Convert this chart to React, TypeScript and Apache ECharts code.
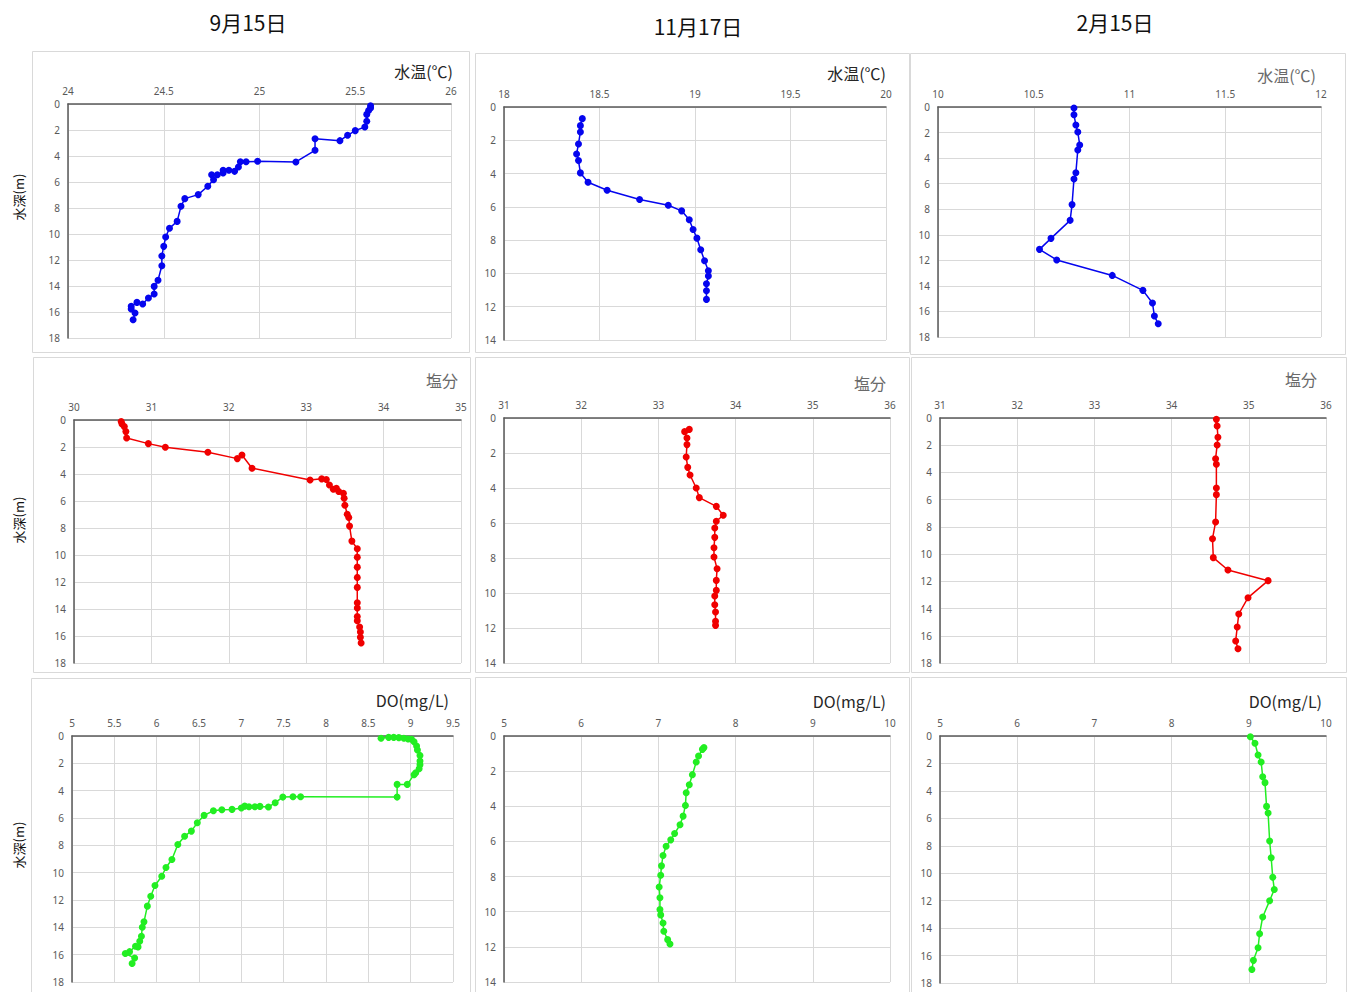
import React, { useEffect, useRef } from "react";
import * as echarts from "echarts";

// ---- texts ----
const dateTitles = ["9月15日", "11月17日", "2月15日"];
const paramTitles = ["水温(℃)", "塩分", "DO(mg/L)"];
const depthLabel = "水深(m)";

// ---- data: 9月15日 ----
const sepTemp = [25.58, 25.58, 25.57, 25.56, 25.56, 25.55, 25.5, 25.46, 25.42, 25.29, 25.29, 25.19, 24.99, 24.93, 24.9, 24.89, 24.87, 24.84, 24.81, 24.81, 24.78, 24.75, 24.76, 24.73, 24.68, 24.61, 24.59, 24.57, 24.53, 24.51, 24.5, 24.49, 24.49, 24.47, 24.45, 24.45, 24.42, 24.39, 24.36, 24.33, 24.33, 24.35, 24.34];
const sepTempDepth = [0.13, 0.3, 0.5, 0.8, 1.33, 1.77, 2.05, 2.41, 2.82, 2.67, 3.56, 4.46, 4.41, 4.44, 4.44, 4.85, 5.18, 5.1, 5.1, 5.3, 5.44, 5.44, 5.82, 6.33, 6.97, 7.28, 7.87, 9.03, 9.56, 10.23, 10.95, 11.69, 12.44, 13.56, 14.03, 14.62, 14.92, 15.38, 15.26, 15.56, 15.77, 16.08, 16.59];
const sepSal = [30.61, 30.62, 30.65, 30.67, 30.68, 30.96, 31.18, 31.73, 32.11, 32.17, 32.3, 33.05, 33.2, 33.26, 33.3, 33.35, 33.39, 33.42, 33.48, 33.49, 33.5, 33.53, 33.55, 33.56, 33.59, 33.66, 33.66, 33.66, 33.66, 33.66, 33.66, 33.66, 33.66, 33.66, 33.69, 33.7, 33.7, 33.71];
const sepSalDepth = [0.12, 0.3, 0.49, 0.86, 1.33, 1.75, 2.02, 2.39, 2.86, 2.59, 3.57, 4.44, 4.36, 4.41, 4.81, 5.13, 5.05, 5.3, 5.42, 5.79, 6.31, 6.98, 7.22, 7.86, 8.97, 9.54, 10.16, 10.9, 11.66, 12.4, 13.54, 13.93, 14.55, 14.87, 15.34, 15.71, 16.1, 16.52];
const sepDO = [8.65, 8.74, 8.8, 8.86, 8.92, 8.97, 9.01, 9.04, 9.07, 9.08, 9.11, 9.11, 9.11, 9.1, 9.06, 9.04, 8.96, 8.84, 8.84, 7.7, 7.61, 7.49, 7.4, 7.32, 7.22, 7.16, 7.09, 7.04, 7.0, 6.89, 6.77, 6.67, 6.56, 6.48, 6.41, 6.33, 6.25, 6.18, 6.11, 6.06, 5.98, 5.93, 5.89, 5.85, 5.83, 5.82, 5.8, 5.78, 5.75, 5.68, 5.63, 5.74, 5.71];
const sepDODepth = [0.17, 0.1, 0.1, 0.12, 0.17, 0.22, 0.24, 0.42, 0.73, 1.03, 1.42, 1.83, 2.1, 2.39, 2.69, 2.83, 3.54, 3.54, 4.47, 4.44, 4.44, 4.47, 4.88, 5.2, 5.15, 5.18, 5.18, 5.13, 5.27, 5.37, 5.4, 5.47, 5.81, 6.35, 6.96, 7.33, 7.94, 9.04, 9.62, 10.26, 10.94, 11.72, 12.45, 13.6, 13.99, 14.65, 15.02, 15.43, 15.38, 15.78, 15.92, 16.24, 16.65];

// ---- data: 11月17日 ----
const novTemp = [18.41, 18.4, 18.4, 18.39, 18.38, 18.39, 18.4, 18.44, 18.54, 18.71, 18.86, 18.93, 18.97, 18.99, 19.01, 19.03, 19.05, 19.07, 19.07, 19.06, 19.06, 19.06];
const novTempDepth = [0.7, 1.12, 1.5, 2.22, 2.82, 3.22, 3.96, 4.52, 5.0, 5.56, 5.9, 6.24, 6.78, 7.36, 7.88, 8.58, 9.24, 9.84, 10.16, 10.62, 11.04, 11.56];
const novSal = [33.4, 33.34, 33.37, 33.37, 33.36, 33.38, 33.41, 33.49, 33.53, 33.75, 33.84, 33.75, 33.73, 33.73, 33.72, 33.72, 33.76, 33.75, 33.75, 33.73, 33.73, 33.74, 33.74, 33.74];
const novSalDepth = [0.65, 0.78, 1.14, 1.52, 2.23, 2.82, 3.26, 4.0, 4.55, 5.05, 5.56, 5.9, 6.29, 6.82, 7.41, 7.94, 8.61, 9.28, 9.85, 10.17, 10.67, 11.09, 11.62, 11.85];
const novDO = [7.59, 7.57, 7.52, 7.49, 7.44, 7.4, 7.36, 7.35, 7.32, 7.28, 7.21, 7.16, 7.1, 7.06, 7.04, 7.03, 7.01, 7.02, 7.02, 7.03, 7.06, 7.07, 7.12, 7.15];
const novDODepth = [0.66, 0.76, 1.14, 1.48, 2.2, 2.77, 3.23, 3.95, 4.56, 5.05, 5.55, 5.91, 6.27, 6.8, 7.39, 7.92, 8.59, 9.21, 9.88, 10.18, 10.64, 11.11, 11.59, 11.84];

// ---- data: 2月15日 ----
const febTemp = [10.71, 10.71, 10.72, 10.73, 10.74, 10.73, 10.72, 10.71, 10.7, 10.69, 10.59, 10.53, 10.62, 10.91, 11.07, 11.12, 11.13, 11.15];
const febTempDepth = [0.08, 0.6, 1.41, 1.96, 2.97, 3.37, 5.14, 5.64, 7.64, 8.87, 10.28, 11.14, 11.97, 13.18, 14.35, 15.34, 16.36, 16.96];
const febSal = [34.58, 34.59, 34.6, 34.59, 34.57, 34.58, 34.58, 34.58, 34.57, 34.53, 34.54, 34.73, 35.25, 34.99, 34.87, 34.85, 34.83, 34.86];
const febSalDepth = [0.1, 0.59, 1.42, 1.98, 2.99, 3.4, 5.14, 5.63, 7.64, 8.87, 10.26, 11.17, 11.95, 13.2, 14.4, 15.36, 16.38, 16.95];
const febDO = [9.02, 9.08, 9.12, 9.16, 9.18, 9.21, 9.23, 9.25, 9.27, 9.29, 9.31, 9.33, 9.27, 9.18, 9.14, 9.12, 9.06, 9.04];
const febDODepth = [0.05, 0.53, 1.38, 1.9, 2.97, 3.4, 5.13, 5.61, 7.65, 8.87, 10.3, 11.18, 12.0, 13.19, 14.41, 15.43, 16.35, 17.01];

// ---- axis ranges ----
const xRanges = [
  [24, 26, 0.5], [18, 20, 0.5], [10, 12, 0.5],
  [30, 35, 1], [31, 36, 1], [31, 36, 1],
  [5, 9.5, 0.5], [5, 10, 1], [5, 10, 1],
];
const depthMax = [18, 14, 18, 18, 14, 18, 18, 14, 18];

const values = [sepTemp, novTemp, febTemp, sepSal, novSal, febSal, sepDO, novDO, febDO];
const depths = [sepTempDepth, novTempDepth, febTempDepth, sepSalDepth, novSalDepth, febSalDepth, sepDODepth, novDODepth, febDODepth];

// ---- layout ----
const grids = [
  { left: 68, top: 104, width: 383, height: 234 },
  { left: 504, top: 107, width: 382, height: 233 },
  { left: 938, top: 107, width: 383, height: 230 },
  { left: 74, top: 420, width: 387, height: 243 },
  { left: 504, top: 418, width: 386, height: 245 },
  { left: 940, top: 418, width: 386, height: 245 },
  { left: 72, top: 736, width: 381, height: 246 },
  { left: 504, top: 736, width: 386, height: 246 },
  { left: 940, top: 736, width: 386, height: 247 },
];
const boxes = [
  [32, 51, 469, 352], [475, 53, 909, 352], [910, 53, 1345, 354],
  [33, 357, 470, 672], [475, 357, 909, 672], [911, 357, 1346, 672],
  [31, 678, 470, 992], [475, 677, 909, 992], [911, 677, 1346, 992],
];
const paramPos = [
  [453, 71, "#262626"], [886, 73, "#262626"], [1316, 75, "#6a6a6a"],
  [458, 380, "#6a6a6a"], [886, 383, "#6a6a6a"], [1317, 379, "#6a6a6a"],
  [449, 700, "#262626"], [886, 701, "#262626"], [1322, 701, "#262626"],
];
const dateX = [248, 698, 1115];
const dateY = [22, 26, 22];
const depthLabelY = [197, 520, 845];
const seriesColors = ["#0505ee", "#f00000", "#22ee22"];

export default function App() {
  const ref = useRef<HTMLDivElement>(null);
  useEffect(() => {
    if (!ref.current) return;
    const chart = echarts.init(ref.current, undefined, { renderer: "svg" });
    const numFont = "Noto Sans";
    const cjkFont = "Noto Sans CJK JP";
    const graphic: any[] = [];
    boxes.forEach((b) => {
      graphic.push({
        type: "rect",
        shape: { x: b[0] + 0.5, y: b[1] + 0.5, width: b[2] - b[0], height: b[3] - b[1] },
        style: { fill: "none", stroke: "#d9d9d9", lineWidth: 1 },
        z: -1,
      });
    });
    dateTitles.forEach((t, i) => {
      graphic.push({
        type: "text",
        x: dateX[i],
        y: dateY[i],
        style: { text: t, fontSize: 21, fontFamily: cjkFont, fill: "#111", align: "center", verticalAlign: "middle" },
      });
    });
    paramPos.forEach((p, i) => {
      graphic.push({
        type: "text",
        x: p[0] as number,
        y: p[1] as number,
        style: { text: paramTitles[Math.floor(i / 3)], fontSize: 16, fontFamily: cjkFont, fill: p[2] as string, align: "right", verticalAlign: "middle" },
      });
    });
    depthLabelY.forEach((y) => {
      graphic.push({
        type: "text",
        x: 18,
        y,
        rotation: Math.PI / 2,
        style: { text: depthLabel, fontSize: 13, fontFamily: cjkFont, fill: "#111", align: "center", verticalAlign: "middle" },
      });
    });

    const option: any = {
      animation: false,
      backgroundColor: "#ffffff",
      grid: grids.map((g) => ({ ...g, containLabel: false })),
      xAxis: xRanges.map((r, i) => ({
        type: "value",
        gridIndex: i,
        position: "top",
        min: r[0],
        max: r[1],
        interval: r[2],
        axisLine: { show: true, onZero: false, lineStyle: { color: "#595959", width: 1.5 } },
        axisTick: { show: false },
        axisLabel: { color: "#595959", fontSize: 10, fontFamily: numFont, margin: 8 },
        splitLine: { show: true, lineStyle: { color: "#d9d9d9", width: 1 } },
      })),
      yAxis: depthMax.map((m, i) => ({
        type: "value",
        gridIndex: i,
        inverse: true,
        min: 0,
        max: m,
        interval: 2,
        axisLine: { show: true, onZero: false, lineStyle: { color: "#595959", width: 1.5 } },
        axisTick: { show: false },
        axisLabel: { color: "#595959", fontSize: 10, fontFamily: numFont, margin: 8 },
        splitLine: { show: true, lineStyle: { color: "#d9d9d9", width: 1 } },
      })),
      series: values.map((v, i) => ({
        type: "line",
        xAxisIndex: i,
        yAxisIndex: i,
        data: v.map((x, k) => [x, depths[i][k]]),
        symbol: "circle",
        symbolSize: 7,
        showSymbol: true,
        lineStyle: { color: seriesColors[Math.floor(i / 3)], width: 1.5 },
        itemStyle: { color: seriesColors[Math.floor(i / 3)] },
        z: 3,
      })),
      graphic,
    };
    chart.setOption(option);
    return () => chart.dispose();
  }, []);
  return <div ref={ref} style={{ position: "fixed", left: 0, top: 0, width: 1349, height: 992 }} />;
}
